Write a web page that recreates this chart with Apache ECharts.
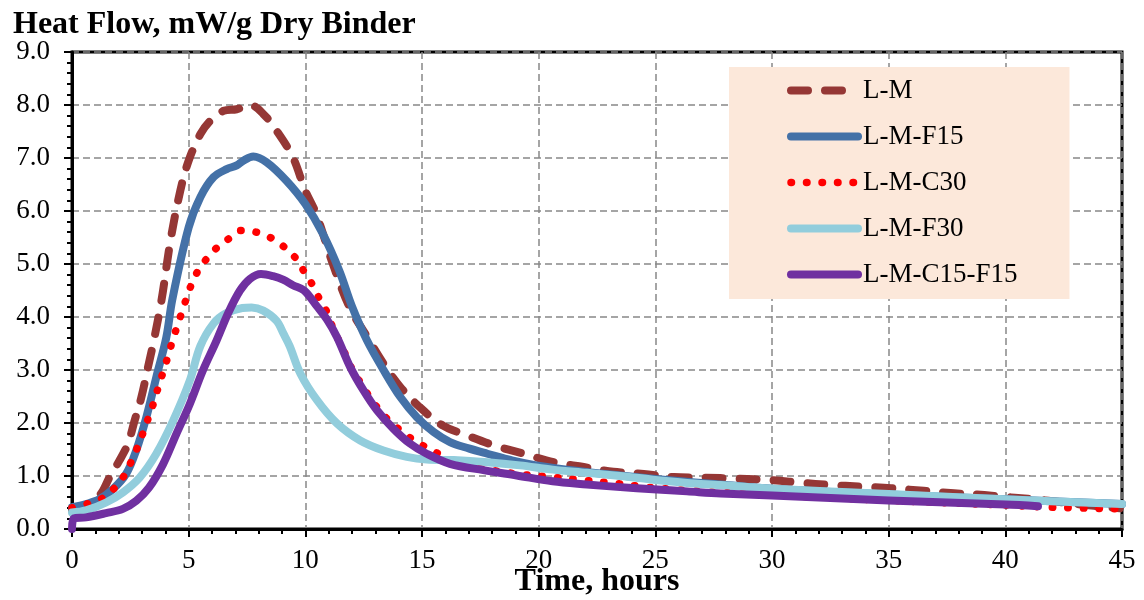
<!DOCTYPE html>
<html>
<head>
<meta charset="utf-8">
<script src="https://cdn.jsdelivr.net/npm/echarts@6/dist/echarts.min.js"></script>
<style>
html,body{margin:0;padding:0;background:#fff;}
#chart{width:1144px;height:600px;}
</style>
</head>
<body>
<div id="chart"></div>
<script>
// ---- data (time in hours, heat flow in mW/g dry binder) ----
const seriesNames = ['L-M', 'L-M-F15', 'L-M-C30', 'L-M-F30', 'L-M-C15-F15'];
const xTicks = [0, 5, 10, 15, 20, 25, 30, 35, 40, 45];
const yTicks = [0, 1, 2, 3, 4, 5, 6, 7, 8, 9];

const LM_t = [0, 0.5, 1.0, 1.32, 1.6, 2.03, 2.39, 2.68, 2.97, 3.25, 3.47, 3.83, 4.22, 4.64, 5.0, 5.5, 5.92, 6.5, 7.06, 7.63, 8.2, 8.76, 9.47, 10, 10.47, 11.18, 11.9, 12.6, 13.35, 14.07, 14.9, 15.9, 16.85, 18.07, 19.36, 20.64, 21.93, 23.2, 24.5, 25.8, 27.07, 28.5, 30, 31.2, 32.5, 33.8, 35.1, 36.5, 37.8, 39.1, 40.4, 41.7, 43.1, 44.9];
const LM_v = [0.35, 0.42, 0.55, 0.72, 0.97, 1.29, 1.6, 2.04, 2.48, 3.04, 3.48, 4.3, 5.44, 6.38, 6.95, 7.45, 7.7, 7.89, 7.92, 8.0, 7.83, 7.52, 7.01, 6.38, 5.94, 5.0, 4.18, 3.66, 3.12, 2.68, 2.3, 1.95, 1.78, 1.58, 1.42, 1.26, 1.17, 1.08, 1.04, 0.98, 0.97, 0.95, 0.92, 0.875, 0.83, 0.8, 0.77, 0.72, 0.675, 0.64, 0.59, 0.54, 0.47, 0.39];

const F15_t = [0, 0.6, 1.17, 1.75, 2.32, 2.75, 3.18, 3.61, 4.04, 4.3, 5.0, 5.5, 6.07, 6.63, 7.06, 7.34, 7.77, 8.34, 9.19, 10, 10.75, 11.46, 12.0, 12.64, 13.35, 14.07, 14.78, 15.5, 16.2, 17.0, 17.8, 18.9, 19.9, 21.4, 23.5, 25.6, 27.8, 30, 35, 40, 45];
const F15_v = [0.41, 0.47, 0.56, 0.75, 1.04, 1.48, 2.1, 2.86, 3.61, 4.33, 5.69, 6.26, 6.64, 6.79, 6.86, 6.95, 7.03, 6.92, 6.57, 6.13, 5.57, 4.87, 4.2, 3.56, 3.0, 2.49, 2.11, 1.83, 1.64, 1.52, 1.42, 1.29, 1.2, 1.11, 1.01, 0.92, 0.84, 0.76, 0.65, 0.56, 0.47];

const C30_t = [0, 0.53, 1.17, 1.7, 2.15, 2.46, 2.75, 3.0, 3.22, 3.44, 3.64, 3.84, 4.04, 4.23, 4.43, 4.64, 5.07, 5.36, 5.7, 6.14, 6.7, 7.24, 7.9, 8.5, 9.07, 9.55, 9.93, 10.29, 10.57, 10.93, 11.14, 11.43, 11.71, 12.0, 12.35, 12.71, 13.07, 13.5, 14.07, 14.56, 15.14, 15.7, 16.5, 17.6, 19.06, 20.5, 21.9, 23.3, 24.6, 26.0, 27.4, 28.7, 30, 35, 40, 42, 45];
const C30_v = [0.4, 0.46, 0.55, 0.72, 0.95, 1.2, 1.48, 1.76, 2.03, 2.3, 2.59, 2.87, 3.15, 3.44, 3.72, 4.0, 4.56, 4.84, 5.06, 5.28, 5.47, 5.63, 5.6, 5.5, 5.33, 5.13, 4.87, 4.62, 4.37, 4.09, 3.84, 3.56, 3.3, 3.02, 2.77, 2.52, 2.3, 2.08, 1.86, 1.7, 1.55, 1.42, 1.25, 1.14, 1.04, 0.98, 0.92, 0.86, 0.79, 0.74, 0.7, 0.67, 0.64, 0.54, 0.45, 0.41, 0.38];

const F30_t = [0, 0.6, 1.46, 2.18, 2.9, 3.6, 4.33, 5.04, 5.5, 6.07, 6.6, 7.3, 7.7, 8.2, 8.76, 9.07, 9.33, 9.79, 10.5, 11.36, 12.35, 13.35, 14.35, 15.2, 16.36, 17.8, 19.2, 20.6, 22.07, 23.5, 24.9, 26.36, 27.8, 30, 35, 40, 45];
const F30_v = [0.31, 0.35, 0.5, 0.69, 0.97, 1.41, 2.04, 2.79, 3.45, 3.88, 4.07, 4.17, 4.18, 4.12, 3.93, 3.68, 3.45, 2.93, 2.43, 1.99, 1.67, 1.48, 1.36, 1.31, 1.3, 1.26, 1.2, 1.12, 1.06, 1.0, 0.93, 0.87, 0.83, 0.76, 0.66, 0.56, 0.47];

const C15F15_t = [0, 0.08, 0.6, 1.46, 2.18, 2.75, 3.3, 3.9, 4.47, 5.04, 5.6, 6.19, 6.7, 7.2, 7.63, 8.1, 8.62, 9.07, 9.47, 9.95, 10.5, 10.93, 11.36, 11.93, 12.5, 13.07, 13.78, 14.49, 15.2, 16.2, 17.63, 19.06, 20.6, 22.07, 23.5, 24.9, 26.36, 27.8, 30, 35, 40, 41.4];
const C15F15_v = [0, 0.2, 0.22, 0.3, 0.38, 0.53, 0.78, 1.22, 1.79, 2.35, 2.98, 3.55, 4.08, 4.5, 4.72, 4.81, 4.77, 4.7, 4.6, 4.5, 4.2, 3.95, 3.62, 3.05, 2.61, 2.24, 1.89, 1.61, 1.42, 1.23, 1.11, 1.01, 0.9, 0.84, 0.79, 0.75, 0.71, 0.67, 0.63, 0.54, 0.46, 0.43];

function zip(t, v) { return t.map((x, i) => [x, v[i]]); }

const FONT = "'Liberation Serif', 'Times New Roman', serif";
const chart = echarts.init(document.getElementById('chart'), null, {renderer: 'canvas'});

function mk(name, t, v, color, type, width) {
  return {
    name: name,
    type: 'line',
    data: zip(t, v),
    showSymbol: false,
    symbol: 'none',
    smooth: 0.35,
    lineStyle: { color: color, width: width, type: type, cap: 'round', join: 'round' },
    itemStyle: { color: color },
    emphasis: { disabled: true },
    animation: false
  };
}

const option = {
  animation: false,
  backgroundColor: '#ffffff',
  title: {
    text: 'Heat Flow, mW/g Dry Binder',
    left: 8, top: 4,
    textStyle: { fontFamily: FONT, fontSize: 32, fontWeight: 'bold', color: '#000' }
  },
  grid: {
    left: 72, right: 22, top: 52, bottom: 71,
    containLabel: false,
    outerBoundsMode: 'none',
    show: true, borderColor: '#000', borderWidth: 3, backgroundColor: 'transparent'
  },
  legend: {
    orient: 'vertical',
    left: 729, top: 67,
    padding: [10, 52, 11, 58],
    itemGap: 19,
    itemWidth: 67, itemHeight: 26,
    backgroundColor: '#FCE8DA',
    data: seriesNames,
    itemStyle: { opacity: 0 },
    lineStyle: { width: 'inherit', type: 'inherit', cap: 'round' },
    textStyle: { fontFamily: FONT, fontSize: 27, color: '#000', lineHeight: 26 },
    selectedMode: false
  },
  xAxis: {
    type: 'value',
    min: xTicks[0], max: xTicks[xTicks.length - 1], interval: 5,
    name: 'Time, hours',
    nameLocation: 'middle', nameGap: 37,
    nameMoveOverlap: false,
    nameTextStyle: { fontFamily: FONT, fontSize: 32, fontWeight: 'bold', color: '#000', verticalAlign: 'top', lineHeight: 32 },
    axisLine: { show: true, onZero: false, lineStyle: { color: '#000', width: 3 } },
    axisTick: { show: true, length: 8, lineStyle: { color: '#000', width: 2 } },
    minorTick: { show: true, splitNumber: 5, length: 5, lineStyle: { color: '#000', width: 2 } },
    axisLabel: { fontFamily: FONT, fontSize: 27, color: '#000', margin: 18 },
    splitLine: { show: true, lineStyle: { color: '#888', width: 1.5, type: [7, 4] } }
  },
  yAxis: {
    type: 'value',
    min: yTicks[0], max: yTicks[yTicks.length - 1], interval: 1,
    axisLine: { show: true, onZero: false, lineStyle: { color: '#000', width: 3 } },
    axisTick: { show: true, length: 8, lineStyle: { color: '#000', width: 2 } },
    minorTick: { show: true, splitNumber: 5, length: 5, lineStyle: { color: '#000', width: 2 } },
    axisLabel: { fontFamily: FONT, fontSize: 27, color: '#000', margin: 22, formatter: v => v.toFixed(1) },
    splitLine: { show: true, lineStyle: { color: '#888', width: 1.5, type: [7, 4] } }
  },
  series: [
    mk(seriesNames[0], LM_t, LM_v, '#953735', [17, 17], 8),
    mk(seriesNames[1], F15_t, F15_v, '#4471A7', 'solid', 8),
    mk(seriesNames[2], C30_t, C30_v, '#FF0000', [0.5, 15], 7.5),
    mk(seriesNames[3], F30_t, F30_v, '#92CDDC', 'solid', 8),
    mk(seriesNames[4], C15F15_t, C15F15_v, '#7030A0', 'solid', 8)
  ]
};
chart.setOption(option);
</script>
</body>
</html>
